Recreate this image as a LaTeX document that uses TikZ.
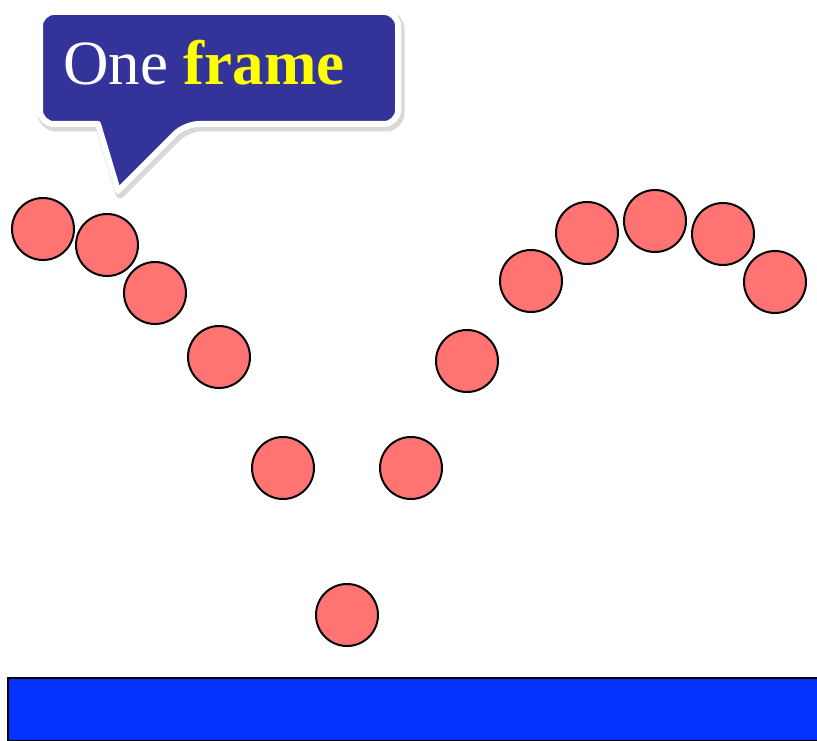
\documentclass[tikz,border=0pt]{standalone}
\usepackage{fontspec}
\setmainfont{Liberation Serif}
\definecolor{ballred}{RGB}{255,115,115}
\definecolor{groundblue}{RGB}{4,51,255}
\definecolor{calloutblue}{RGB}{51,51,153}
\definecolor{textyellow}{RGB}{255,255,0}
\begin{document}
\begin{tikzpicture}[x=1pt,y=-1pt,
  ball/.style={circle,draw=black,line width=2pt,fill=ballred,minimum size=62pt,inner sep=0pt},
  ground/.style={draw=black,line width=2pt,fill=groundblue,minimum width=830pt,minimum height=63pt,inner sep=0pt,anchor=north west},
  callout/.style={fill=calloutblue,draw=white,line width=6pt,line join=round}]
\useasboundingbox (0,0) rectangle (817,741);
% ground
\node[ground] (ground) at (7,677) {};
% balls
\node[ball] (c1) at (43,229) {};
\node[ball] (c2) at (107,245) {};
\node[ball] (c3) at (155,293) {};
\node[ball] (c4) at (219,357) {};
\node[ball] (c5) at (283,468) {};
\node[ball] (c6) at (347,615) {};
\node[ball] (c7) at (411,468) {};
\node[ball] (c8) at (467,361) {};
\node[ball] (c9) at (531,281) {};
\node[ball] (c10) at (587,233) {};
\node[ball] (c11) at (655,221) {};
\node[ball] (c12) at (723,234) {};
\node[ball] (c13) at (775,282) {};
% callout shadow
\draw[black!25,line width=9pt,line join=round,fill=black!25,rounded corners=14pt,opacity=0.6]
  (42,15) -- (400,15) -- (400,127) -- (187,127) [sharp corners] -- (120,194) -- (100,127) [rounded corners=14pt] -- (42,127) -- cycle;
% callout
\draw[callout,rounded corners=14pt]
  (40,12) -- (398,12) -- (398,124) -- (185,124) [sharp corners] -- (118,191) -- (98,124) [rounded corners=14pt] -- (40,124) -- cycle;
\node[anchor=base west,inner sep=0pt,font=\fontsize{63}{63}\selectfont,text=white] (label) at (63,85) {One \textbf{\textcolor{textyellow}{frame}}};
\end{tikzpicture}
\end{document}
